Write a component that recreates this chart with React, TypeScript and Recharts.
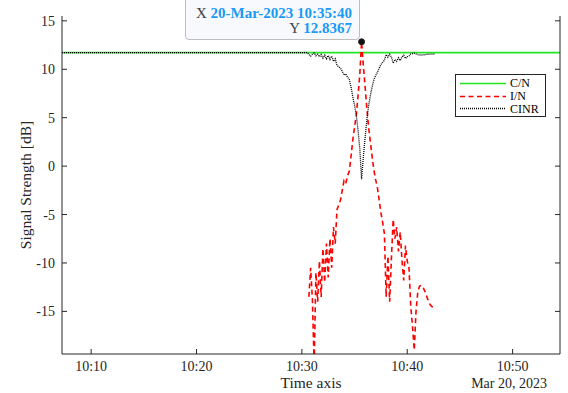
import React from 'react';
import { LineChart, Line, XAxis, YAxis, ReferenceDot, Label } from 'recharts';

// time in seconds after 10:00:00 on 20-Mar-2023
const cnTimes = [434, 3270];
const cnValues = [11.72, 11.72];

const activeTimes = [
  1840, 1850, 1860, 1870, 1880, 1890, 1900, 1910, 1920, 1930, 1940, 1950,
  1960, 1970, 1980, 1990, 2000, 2010, 2020, 2030, 2040, 2050, 2060, 2070,
  2080, 2090, 2100, 2110, 2120, 2130, 2140, 2150, 2160, 2170, 2180, 2190,
  2200, 2210, 2220, 2230, 2240, 2250, 2260, 2270, 2280, 2290, 2300, 2310,
  2320, 2330, 2340, 2350, 2360, 2370, 2380, 2390, 2400, 2410, 2420, 2430,
  2440, 2450, 2460, 2470, 2480, 2490, 2500, 2510, 2520, 2530, 2540, 2550,
];

const inValues = [
  -13.5, -10.5, -13.8, -20.5, -11.0, -14.0, -9.8, -13.5, -8.5, -12.0, -8.0, -11.5,
  -7.5, -10.5, -6.3, -8.0, -4.5, -4.0, -3.5, -2.5, -1.5, -1.8, -1.0, -0.5,
  1.0, 2.7, 4.0, 5.3, 7.3, 9.5, 12.8367, 10.4, 8.2, 6.0, 4.0, 2.5,
  1.0, -0.4, -1.4, -2.2, -3.5, -4.8, -5.8, -7.0, -13.5, -9.3, -14.0, -9.5,
  -5.5, -7.5, -6.3, -8.8, -6.8, -9.7, -11.8, -8.2, -9.8, -10.5, -14.5, -16.5,
  -19.0, -15.0, -13.0, -12.4, -12.3, -12.5, -12.9, -13.4, -13.9, -14.3, -14.5, -14.6,
];

const cinrLeadTimes = [434, 1830];
const cinrLeadValues = [11.72, 11.72];
const cinrActiveValues = [
  11.53, 11.35, 11.54, 11.68, 11.39, 11.55, 11.29, 11.53, 11.15, 11.45, 11.08, 11.42,
  11.01, 11.35, 10.81, 11.08, 10.40, 10.26, 10.12, 9.78, 9.40, 9.52, 9.18, 8.95,
  8.18, 7.15, 6.26, 5.30, 3.68, 1.76, -1.34, 0.94, 2.91, 4.75, 6.26, 7.28,
  8.18, 8.90, 9.35, 9.67, 10.12, 10.48, 10.71, 10.93, 11.53, 11.24, 11.55, 11.26,
  10.64, 11.01, 10.81, 11.18, 10.90, 11.28, 11.44, 11.11, 11.29, 11.35, 11.57, 11.62,
  11.67, 11.58, 11.51, 11.48, 11.47, 11.48, 11.50, 11.53, 11.55, 11.56, 11.57, 11.57,
];
const cinrTailTimes = [2560];
const cinrTailValues = [11.62];

const xTicks = [600, 1200, 1800, 2400, 3000];
const xTickLabels = ['10:10', '10:20', '10:30', '10:40', '10:50'];
const yTicks = [-15, -10, -5, 0, 5, 10, 15];

const peakTime = 2140;
const peakValue = 12.8367;
const datatipXText = '20-Mar-2023 10:35:40';
const datatipYText = '12.8367';

const seriesNames = ['C/N', 'I/N', 'CINR'];
const seriesColors = ['#22e622', '#ff0000', '#000000'];
const seriesDash = ['', '5 3.5', '1 1'];
const seriesWidth = [1.6, 1.6, 1.3];

const xLabel = 'Time axis';
const dateLabel = 'Mar 20, 2023';
const yLabel = 'Signal Strength [dB]';

const toRows = (times: number[], values: number[]) =>
  times.map((t, i) => ({ t, v: values[i] }));

const cnData = toRows(cnTimes, cnValues);
const inData = toRows(activeTimes, inValues);
const cinrData = toRows(
  [...cinrLeadTimes, ...activeTimes, ...cinrTailTimes],
  [...cinrLeadValues, ...cinrActiveValues, ...cinrTailValues]
);

const FONT = 'Liberation Serif, Times New Roman, serif';
const AXIS = '#262626';

const renderXLabels = (props: any) => {
  const vb = props.viewBox || {};
  const x0 = vb.x ?? 62;
  const y0 = vb.y ?? 354;
  const w = vb.width ?? 498;
  const h = vb.height ?? 39;
  return (
    <g>
      <text x={x0 + w / 2} y={y0 + h - 5} textAnchor="middle" fill={AXIS}
        fontFamily={FONT} fontSize={15.5}>{xLabel}</text>
      <text x={x0 + w - 13} y={y0 + h - 5} textAnchor="end" fill={AXIS}
        fontFamily={FONT} fontSize={14}>{dateLabel}</text>
    </g>
  );
};

const renderYLabel = (props: any) => {
  const vb = props.viewBox || {};
  const y0 = vb.y ?? 16;
  const h = vb.height ?? 338;
  const cx = 25;
  const cy = y0 + h / 2;
  return (
    <text x={cx} y={cy} transform={`rotate(-90 ${cx} ${cy})`} textAnchor="middle"
      dominantBaseline="central" fill={AXIS} fontFamily={FONT} fontSize={15.5}>{yLabel}</text>
  );
};

const Legend = () => (
  <div style={{
    position: 'absolute', left: 455, top: 74, width: 91, height: 43,
    border: `1px solid ${AXIS}`, background: '#fff', boxSizing: 'border-box',
    paddingTop: 2, fontFamily: FONT, fontSize: 12, color: '#000',
  }}>
    {seriesNames.map((name, i) => (
      <div key={name} style={{ display: 'flex', alignItems: 'center', height: 12.7 }}>
        <svg width={50} height={11} style={{ marginLeft: 4, flex: 'none' }}>
          <line x1={0} x2={46} y1={5.5} y2={5.5} stroke={seriesColors[i]}
            strokeWidth={seriesWidth[i]} strokeDasharray={seriesDash[i] || undefined} />
        </svg>
        <span style={{ lineHeight: '12px' }}>{name}</span>
      </div>
    ))}
  </div>
);

const DataTip = () => (
  <div style={{
    position: 'absolute', left: 185, top: -3, width: 175, height: 43,
    boxSizing: 'border-box', border: '1px solid #bdbdbd', borderRadius: 4,
    background: '#f8f9fd', textAlign: 'right', paddingTop: 8, paddingRight: 7,
    fontFamily: FONT, fontSize: 15, lineHeight: '15px',
  }}>
    <div><span style={{ color: '#404040' }}>X </span>
      <span style={{ color: '#1a9af5', fontWeight: 'bold' }}>{datatipXText}</span></div>
    <div><span style={{ color: '#404040' }}>Y </span>
      <span style={{ color: '#1a9af5', fontWeight: 'bold' }}>{datatipYText}</span></div>
  </div>
);

export default function App() {
  return (
    <div style={{ position: 'absolute', left: 0, top: 0, width: 568, height: 393, background: '#fff' }}>
      <LineChart width={568} height={393} margin={{ top: 16, right: 7, bottom: 0, left: 0 }}>
        <XAxis dataKey="t" type="number" domain={[434, 3270]} allowDataOverflow
          ticks={xTicks} interval={0}
          tickFormatter={(v: number) => xTickLabels[xTicks.indexOf(v)] ?? ''}
          height={39} tickSize={-5} tickMargin={12}
          axisLine={{ stroke: AXIS }} tickLine={{ stroke: AXIS }}
          tick={{ fill: AXIS, fontSize: 14, fontFamily: FONT }}>
          <Label content={renderXLabels} />
        </XAxis>
        <XAxis xAxisId="top" orientation="top" dataKey="t" type="number" domain={[434, 3270]}
          allowDataOverflow ticks={xTicks} interval={0} height={0} tickSize={-5}
          tickFormatter={() => ''} axisLine={{ stroke: AXIS }} tickLine={{ stroke: AXIS }} />
        <YAxis type="number" domain={[-19.4, 15.5]} allowDataOverflow ticks={yTicks} interval={0}
          width={62} tickSize={-5} tickMargin={12}
          axisLine={{ stroke: AXIS }} tickLine={{ stroke: AXIS }}
          tick={{ fill: AXIS, fontSize: 14, fontFamily: FONT }}>
          <Label content={renderYLabel} />
        </YAxis>
        <YAxis yAxisId="right" orientation="right" type="number" domain={[-19.4, 15.5]}
          allowDataOverflow ticks={yTicks} interval={0} width={1} tickSize={-5}
          tickFormatter={() => ''} axisLine={{ stroke: AXIS }} tickLine={{ stroke: AXIS }} />
        <Line data={cnData} dataKey="v" name={seriesNames[0]} stroke={seriesColors[0]}
          strokeWidth={seriesWidth[0]} dot={false} activeDot={false} isAnimationActive={false} />
        <Line data={inData} dataKey="v" name={seriesNames[1]} stroke={seriesColors[1]}
          strokeWidth={seriesWidth[1]} strokeDasharray={seriesDash[1]} dot={false} activeDot={false}
          isAnimationActive={false} />
        <Line data={cinrData} dataKey="v" name={seriesNames[2]} stroke={seriesColors[2]}
          strokeWidth={seriesWidth[2]} strokeDasharray={seriesDash[2]} dot={false} activeDot={false}
          isAnimationActive={false} />
        <ReferenceDot x={peakTime} y={peakValue} r={3} fill="#111" stroke="#222" />
      </LineChart>
      <Legend />
      <DataTip />
    </div>
  );
}
